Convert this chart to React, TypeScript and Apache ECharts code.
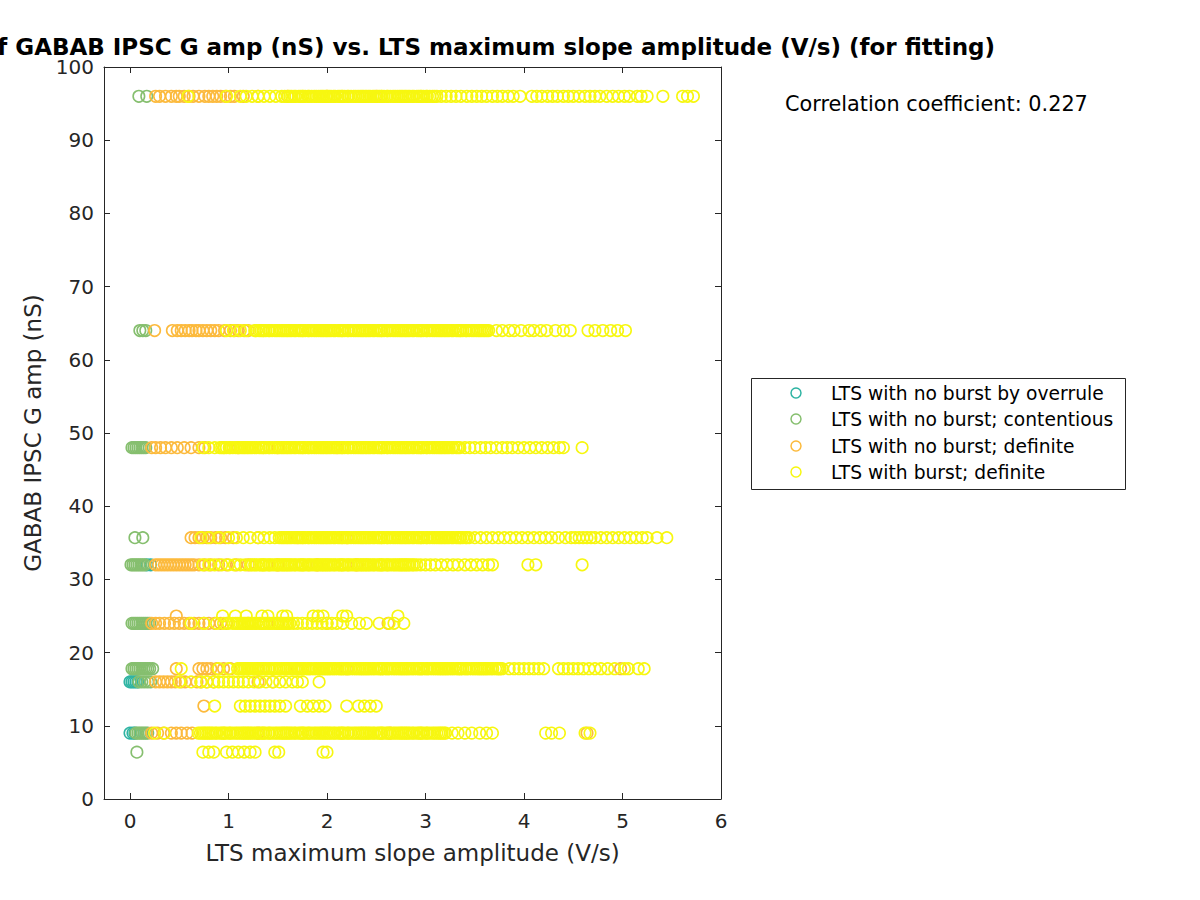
import React, { useEffect, useRef } from "react";
import * as echarts from "echarts";

const seriesNames = [
  "LTS with no burst by overrule",
  "LTS with no burst; contentious",
  "LTS with no burst; definite",
  "LTS with burst; definite",
];
const seriesColors = ["#2fb4a3", "#86bf6f", "#fcba3d", "#f7f710"];
const xTicks = [0, 1, 2, 3, 4, 5, 6];
const yTicks = [0, 10, 20, 30, 40, 50, 60, 70, 80, 90, 100];
const titleText =
  "Scatter plot of GABAB IPSC G amp (nS) vs. LTS maximum slope amplitude (V/s) (for fitting)";
const xName = "LTS maximum slope amplitude (V/s)";
const yName = "GABAB IPSC G amp (nS)";
const correlationText = "Correlation coefficient: 0.227";

// ---- LTS with no burst by overrule ----
const overruleAt32 = [0.17, 0.21];
const overruleAt16 = [0.0, 0.02, 0.04, 0.06, 0.08];
const overruleAt9 = [0.0, 0.03, 0.05];

// ---- LTS with no burst; contentious ----
const contentiousAt96 = [0.09, 0.17];
const contentiousAt64 = [0.1, 0.13, 0.16];
const contentiousAt48 = [0.02, 0.04, 0.06, 0.08, 0.1, 0.12, 0.14, 0.16];
const contentiousAt35p7 = [0.05, 0.13];
const contentiousAt32 = [0.01, 0.03, 0.05, 0.07, 0.09, 0.11, 0.13, 0.15];
const contentiousAt24 = [0.02, 0.04, 0.06, 0.08, 0.1, 0.12, 0.14, 0.16, 0.18, 0.2];
const contentiousAt17p8 = [0.02, 0.04, 0.06, 0.08, 0.1, 0.12, 0.14, 0.16, 0.18, 0.2, 0.23];
const contentiousAt16 = [0.09, 0.12, 0.15, 0.18, 0.21];
const contentiousAt9 = [0.06, 0.08, 0.1, 0.12, 0.14, 0.16, 0.18];
const contentiousAt6p4 = [0.07];

// ---- LTS with no burst; definite ----
const definiteAt96 = [0.26, 0.3, 0.36, 0.42, 0.47, 0.5, 0.55, 0.6, 0.64, 0.7, 0.76, 0.8, 0.84, 0.88, 0.92, 0.97, 1.02, 1.06, 1.15, 1.3, 1.6, 2.0, 2.5];
const definiteAt64 = [0.25, 0.43, 0.48, 0.52, 0.56, 0.6, 0.63, 0.67, 0.7, 0.74, 0.78, 0.82, 0.86, 0.9, 0.96, 1.02, 1.06, 1.1, 1.16, 1.2];
const definiteAt48 = [0.22, 0.26, 0.31, 0.36, 0.42, 0.48, 0.55, 0.62, 0.7, 0.76, 1.1, 1.5, 2.1];
const definiteAt35p7 = [0.62, 0.66, 0.7, 0.74, 0.78, 0.82, 0.87, 0.92, 0.97, 1.05, 1.3, 1.7, 2.2];
const definiteAt32 = [0.26, 0.29, 0.32, 0.35, 0.38, 0.41, 0.44, 0.47, 0.5, 0.53, 0.56, 0.59, 0.62, 0.65, 0.7, 0.76, 0.82, 0.9, 0.98, 1.08, 1.2, 1.5, 1.9, 2.3];
const definiteAt25 = [0.47];
const definiteAt24 = [0.22, 0.26, 0.3, 0.35, 0.4, 0.45, 0.5, 0.55, 0.6, 0.65, 0.7, 0.75, 0.8, 0.86, 0.92, 0.98, 1.2, 1.5, 2.0, 2.62];
const definiteAt17p8 = [0.47, 0.7, 0.74, 0.78, 0.82, 0.88, 0.95, 1.02, 1.3, 1.7, 2.2, 4.98];
const definiteAt16 = [0.26, 0.3, 0.34, 0.38, 0.42, 0.46, 0.52, 0.56, 0.68, 0.72, 0.78, 0.85, 1.3, 1.45];
const definiteAt12p7 = [0.75];
const definiteAt9 = [0.22, 0.28, 0.34, 0.42, 0.47, 0.52, 0.58, 0.63, 1.3, 2.64, 4.64];

// ---- LTS with burst; definite ----
const burstAt96 = [
  0.59, 0.98, 1.12, 1.18, 1.24, 1.3, 1.36, 1.42, 1.48, 1.54, 1.57,
  1.604, 1.623, 1.641, 1.666, 1.683, 1.712, 1.731, 1.749, 1.758, 1.779,
  1.807, 1.819, 1.844, 1.871, 1.892, 1.915, 1.936, 1.953, 1.969, 1.988,
  2.004, 2.023, 2.041, 2.066, 2.083, 2.112, 2.131, 2.149, 2.158, 2.179,
  2.207, 2.219, 2.244, 2.271, 2.292, 2.315, 2.336, 2.353, 2.369, 2.388,
  2.404, 2.423, 2.441, 2.466, 2.483, 2.512, 2.531, 2.549, 2.558, 2.579,
  2.607, 2.619, 2.644, 2.671, 2.692, 2.715, 2.736, 2.753, 2.769, 2.788,
  2.804, 2.823, 2.841, 2.866, 2.883, 2.912, 2.931, 2.949, 2.958, 2.979,
  3.007, 3.019, 3.044, 3.071, 3.092, 3.115,
  3.16, 3.21, 3.26, 3.31, 3.36, 3.42, 3.47, 3.52, 3.57, 3.62, 3.68, 3.73, 3.78, 3.84, 3.89,
  3.96, 4.08, 4.13, 4.18, 4.24, 4.29, 4.34, 4.4, 4.45, 4.5, 4.56, 4.62, 4.67, 4.72, 4.77,
  4.84, 4.9, 4.96, 5.02, 5.07, 5.15, 5.19, 5.25, 5.41, 5.61, 5.66, 5.72,
];
const burstAt64 = [
  0.98, 1.05, 1.12, 1.18, 1.266, 1.283,
  1.312, 1.331, 1.349, 1.358, 1.379, 1.407, 1.419, 1.444, 1.471, 1.492,
  1.515, 1.536, 1.553, 1.569, 1.588, 1.604, 1.623, 1.641, 1.666, 1.683,
  1.712, 1.731, 1.749, 1.758, 1.779, 1.807, 1.819, 1.844, 1.871, 1.892,
  1.915, 1.936, 1.953, 1.969, 1.988, 2.004, 2.023, 2.041, 2.066, 2.083,
  2.112, 2.131, 2.149, 2.158, 2.179, 2.207, 2.219, 2.244, 2.271, 2.292,
  2.315, 2.336, 2.353, 2.369, 2.388, 2.404, 2.423, 2.441, 2.466, 2.483,
  2.512, 2.531, 2.549, 2.558, 2.579, 2.607, 2.619, 2.644, 2.671, 2.692,
  2.715, 2.736, 2.753, 2.769, 2.788, 2.804, 2.823, 2.841, 2.866, 2.883,
  2.912, 2.931, 2.949, 2.958, 2.979, 3.007, 3.019, 3.044, 3.071, 3.092,
  3.115, 3.136, 3.153, 3.169, 3.188, 3.204, 3.223, 3.241, 3.266, 3.283,
  3.312, 3.331, 3.349, 3.358, 3.379, 3.407, 3.419, 3.444, 3.471, 3.492,
  3.515, 3.536, 3.553, 3.569, 3.588, 3.604, 3.623, 3.641,
  3.72, 3.78, 3.85, 3.9, 3.97, 4.05, 4.1, 4.17, 4.23, 4.32, 4.4, 4.47,
  4.65, 4.72, 4.8, 4.88, 4.95, 5.03,
];
const burstAt48 = [
  0.74, 0.8, 0.86,
  0.912, 0.931, 0.949, 0.958, 0.979, 1.007, 1.019, 1.044, 1.071, 1.092,
  1.115, 1.136, 1.153, 1.169, 1.188, 1.204, 1.223, 1.241, 1.266, 1.283,
  1.312, 1.331, 1.349, 1.358, 1.379, 1.407, 1.419, 1.444, 1.471, 1.492,
  1.515, 1.536, 1.553, 1.569, 1.588, 1.604, 1.623, 1.641, 1.666, 1.683,
  1.712, 1.731, 1.749, 1.758, 1.779, 1.807, 1.819, 1.844, 1.871, 1.892,
  1.915, 1.936, 1.953, 1.969, 1.988, 2.004, 2.023, 2.041, 2.066, 2.083,
  2.112, 2.131, 2.149, 2.158, 2.179, 2.207, 2.219, 2.244, 2.271, 2.292,
  2.315, 2.336, 2.353, 2.369, 2.388, 2.404, 2.423, 2.441, 2.466, 2.483,
  2.512, 2.531, 2.549, 2.558, 2.579, 2.607, 2.619, 2.644, 2.671, 2.692,
  2.715, 2.736, 2.753, 2.769, 2.788, 2.804, 2.823, 2.841, 2.866, 2.883,
  2.912, 2.931, 2.949, 2.958, 2.979, 3.007, 3.019, 3.044, 3.071, 3.092,
  3.115, 3.136, 3.153, 3.169, 3.188, 3.204, 3.223, 3.241, 3.266, 3.283,
  3.312, 3.331, 3.349,
  3.4, 3.45, 3.5, 3.56, 3.61, 3.66, 3.72, 3.78, 3.83, 3.88, 3.94, 4.0, 4.06, 4.12, 4.18, 4.24,
  4.3, 4.36, 4.4, 4.59,
];
const burstAt35p7 = [
  0.72, 0.8, 0.9, 1.0, 1.08, 1.15, 1.22, 1.3, 1.36, 1.42, 1.47,
  1.515, 1.536, 1.553, 1.569, 1.588, 1.604, 1.623, 1.641, 1.666, 1.683,
  1.712, 1.731, 1.749, 1.758, 1.779, 1.807, 1.819, 1.844, 1.871, 1.892,
  1.915, 1.936, 1.953, 1.969, 1.988, 2.004, 2.023, 2.041, 2.066, 2.083,
  2.112, 2.131, 2.149, 2.158, 2.179, 2.207, 2.219, 2.244, 2.271, 2.292,
  2.315, 2.336, 2.353, 2.369, 2.388, 2.404, 2.423, 2.441, 2.466, 2.483,
  2.512, 2.531, 2.549, 2.558, 2.579, 2.607, 2.619, 2.644, 2.671, 2.692,
  2.715, 2.736, 2.753, 2.769, 2.788, 2.804, 2.823, 2.841, 2.866, 2.883,
  2.912, 2.931, 2.949, 2.958, 2.979, 3.007, 3.019, 3.044, 3.071, 3.092,
  3.115, 3.136, 3.153, 3.169, 3.188, 3.204, 3.223, 3.241, 3.266, 3.283,
  3.312, 3.331, 3.349, 3.358, 3.379, 3.407, 3.419, 3.444,
  3.5, 3.56, 3.62, 3.68, 3.74, 3.8, 3.86, 3.92, 3.98, 4.04, 4.1, 4.16, 4.22, 4.28, 4.35, 4.42,
  4.48, 4.52, 4.56, 4.6, 4.64, 4.68, 4.72, 4.78, 4.84, 4.9, 4.96, 5.02, 5.08, 5.14, 5.2, 5.25,
  5.35, 5.45,
];
const burstAt32 = [
  0.74, 0.8, 0.86, 0.93, 1.0, 1.06, 1.12, 1.17,
  1.223, 1.241, 1.266, 1.283, 1.312, 1.331, 1.349, 1.358, 1.379,
  1.407, 1.419, 1.444, 1.471, 1.492, 1.515, 1.536, 1.553, 1.569, 1.588,
  1.604, 1.623, 1.641, 1.666, 1.683, 1.712, 1.731, 1.749, 1.758, 1.779,
  1.807, 1.819, 1.844, 1.871, 1.892, 1.915, 1.936, 1.953, 1.969, 1.988,
  2.004, 2.023, 2.041, 2.066, 2.083, 2.112, 2.131, 2.149, 2.158, 2.179,
  2.207, 2.219, 2.244, 2.271, 2.292, 2.315, 2.336, 2.353, 2.369, 2.388,
  2.404, 2.423, 2.441, 2.466, 2.483, 2.512, 2.531, 2.549, 2.558, 2.579,
  2.607, 2.619, 2.644, 2.671, 2.692, 2.715, 2.736, 2.753, 2.769, 2.788,
  2.804, 2.823, 2.841, 2.866, 2.883, 2.912,
  2.95, 3.0, 3.05, 3.1, 3.16, 3.22, 3.28, 3.33, 3.4, 3.46, 3.52, 3.58, 3.64, 3.68,
  4.04, 4.12, 4.59,
];
const burstAt25 = [0.94, 1.07, 1.18, 1.34, 1.4, 1.55, 1.59, 1.86, 1.91, 1.96, 2.16, 2.2, 2.72];
const burstAt24 = [
  0.62, 0.75, 0.88, 0.95, 1.0, 1.044, 1.071, 1.092,
  1.115, 1.136, 1.153, 1.169, 1.188, 1.204, 1.223, 1.241, 1.266, 1.283,
  1.312, 1.331, 1.349, 1.358, 1.379, 1.407, 1.419, 1.444, 1.471, 1.492,
  1.515, 1.536, 1.553, 1.569, 1.588, 1.604, 1.623,
  1.66, 1.7, 1.75, 1.8, 1.85, 1.9, 1.95, 2.0, 2.05, 2.1, 2.16, 2.25, 2.33, 2.4, 2.53, 2.63,
  2.68, 2.78,
];
const burstAt17p8 = [
  0.52, 0.9, 1.0, 1.092,
  1.115, 1.136, 1.153, 1.169, 1.188, 1.204, 1.223, 1.241, 1.266, 1.283,
  1.312, 1.331, 1.349, 1.358, 1.379, 1.407, 1.419, 1.444, 1.471, 1.492,
  1.515, 1.536, 1.553, 1.569, 1.588, 1.604, 1.623, 1.641, 1.666, 1.683,
  1.712, 1.731, 1.749, 1.758, 1.779, 1.807, 1.819, 1.844, 1.871, 1.892,
  1.915, 1.936, 1.953, 1.969, 1.988, 2.004, 2.023, 2.041, 2.066, 2.083,
  2.112, 2.131, 2.149, 2.158, 2.179, 2.207, 2.219, 2.244, 2.271, 2.292,
  2.315, 2.336, 2.353, 2.369, 2.388, 2.404, 2.423, 2.441, 2.466, 2.483,
  2.512, 2.531, 2.549, 2.558, 2.579, 2.607, 2.619, 2.644, 2.671, 2.692,
  2.715, 2.736, 2.753, 2.769, 2.788, 2.804, 2.823, 2.841, 2.866, 2.883,
  2.912, 2.931, 2.949, 2.958, 2.979, 3.007, 3.019, 3.044, 3.071, 3.092,
  3.115, 3.136, 3.153, 3.169, 3.188, 3.204, 3.223, 3.241, 3.266, 3.283,
  3.312, 3.331, 3.349, 3.358, 3.379, 3.407, 3.419, 3.444, 3.471, 3.492,
  3.515, 3.536, 3.553, 3.569, 3.588, 3.604, 3.623, 3.641, 3.666, 3.683,
  3.712, 3.731, 3.749, 3.758, 3.779,
  3.85, 3.9, 3.95, 4.0, 4.05, 4.1, 4.15, 4.2, 4.35, 4.4, 4.45, 4.5, 4.55, 4.6, 4.66, 4.72,
  4.78, 4.85, 4.92, 5.02, 5.06, 5.16, 5.22,
];
const burstAt16 = [
  0.5, 0.62, 0.72, 0.78, 0.85, 0.9, 0.95, 1.0, 1.05, 1.1, 1.15, 1.2, 1.26, 1.32, 1.38, 1.45,
  1.52, 1.58, 1.65, 1.7, 1.75, 1.92,
];
const burstAt12p7 = [
  0.86, 1.12, 1.17, 1.22, 1.27, 1.32, 1.37, 1.42, 1.47, 1.52, 1.58, 1.73, 1.8, 1.86, 1.92,
  1.98, 2.2, 2.32, 2.38, 2.44, 2.5,
];
const burstAt9 = [
  0.25, 0.35, 0.692,
  0.715, 0.736, 0.753, 0.769, 0.788, 0.804, 0.823, 0.841, 0.866, 0.883,
  0.912, 0.931, 0.949, 0.958, 0.979, 1.007, 1.019, 1.044, 1.071, 1.092,
  1.115, 1.136, 1.153, 1.169, 1.188, 1.204, 1.223, 1.241, 1.266, 1.283,
  1.312, 1.331, 1.349, 1.358, 1.379, 1.407, 1.419, 1.444, 1.471, 1.492,
  1.515, 1.536, 1.553, 1.569, 1.588, 1.604, 1.623, 1.641, 1.666, 1.683,
  1.712, 1.731, 1.749, 1.758, 1.779, 1.807, 1.819, 1.844, 1.871, 1.892,
  1.915, 1.936, 1.953, 1.969, 1.988, 2.004, 2.023, 2.041, 2.066, 2.083,
  2.112, 2.131, 2.149, 2.158, 2.179, 2.207, 2.219, 2.244, 2.271, 2.292,
  2.315, 2.336, 2.353, 2.369, 2.388, 2.404, 2.423, 2.441, 2.466, 2.483,
  2.512, 2.531, 2.549, 2.558, 2.579, 2.607, 2.619, 2.644, 2.671, 2.692,
  2.715, 2.736, 2.753, 2.769, 2.788, 2.804, 2.823, 2.841, 2.866, 2.883,
  2.912, 2.931, 2.949, 2.958, 2.979, 3.007, 3.019, 3.044, 3.071, 3.092,
  3.115, 3.136, 3.153, 3.169, 3.188, 3.204,
  3.27, 3.33, 3.4, 3.47, 3.55, 3.62, 3.68, 4.22, 4.28, 4.36, 4.62, 4.67,
];
const burstAt6p4 = [0.74, 0.8, 0.85, 0.98, 1.04, 1.1, 1.16, 1.22, 1.27, 1.47, 1.51, 1.96, 2.0];

type Row = [number, number[]];
const overruleRows: Row[] = [[32, overruleAt32], [16, overruleAt16], [9, overruleAt9]];
const contentiousRows: Row[] = [
  [96, contentiousAt96], [64, contentiousAt64], [48, contentiousAt48], [35.7, contentiousAt35p7],
  [32, contentiousAt32], [24, contentiousAt24], [17.8, contentiousAt17p8], [16, contentiousAt16],
  [9, contentiousAt9], [6.4, contentiousAt6p4],
];
const definiteRows: Row[] = [
  [96, definiteAt96], [64, definiteAt64], [48, definiteAt48], [35.7, definiteAt35p7],
  [32, definiteAt32], [25, definiteAt25], [24, definiteAt24], [17.8, definiteAt17p8],
  [16, definiteAt16], [12.7, definiteAt12p7], [9, definiteAt9],
];
const burstRows: Row[] = [
  [96, burstAt96], [64, burstAt64], [48, burstAt48], [35.7, burstAt35p7], [32, burstAt32],
  [25, burstAt25], [24, burstAt24], [17.8, burstAt17p8], [16, burstAt16], [12.7, burstAt12p7],
  [9, burstAt9], [6.4, burstAt6p4],
];
const allRows = [overruleRows, contentiousRows, definiteRows, burstRows];

const toPoints = (rows: Row[]) => rows.flatMap(([y, xs]) => xs.map((x) => [x, y]));

const FONT = "DejaVu Sans";
const AX = "#262626";

// legend box layout (pixels)
const LEG = { x: 751, y: 378, w: 374, h: 111, markerX: 796, textX: 831, rowY: [393, 419, 446, 472] };

export default function App() {
  const ref = useRef<HTMLDivElement>(null);
  useEffect(() => {
    if (!ref.current) return;
    const chart = echarts.init(ref.current, null, { renderer: "svg" });
    const axisCommon = {
      axisLine: { show: true, onZero: false, lineStyle: { color: AX, width: 1 } },
      axisTick: { show: true, inside: true, length: 6, lineStyle: { color: AX, width: 1 } },
      splitLine: { show: false },
    };
    const xCommon = { type: "value", min: -0.264, max: 6, splitNumber: 6, ...axisCommon };
    const yCommon = { type: "value", min: 0, max: 100, interval: 10, ...axisCommon };

    const legendGraphics: any[] = [
      {
        type: "rect",
        shape: { x: LEG.x + 0.5, y: LEG.y + 0.5, width: LEG.w, height: LEG.h },
        style: { fill: "#ffffff", stroke: AX, lineWidth: 1 },
        z: 10,
      },
    ];
    seriesNames.forEach((name, i) => {
      legendGraphics.push({
        type: "circle",
        shape: { cx: LEG.markerX, cy: LEG.rowY[i], r: 5 },
        style: { fill: "none", stroke: seriesColors[i], lineWidth: 1.5 },
        z: 11,
      });
      legendGraphics.push({
        type: "text",
        x: LEG.textX,
        y: LEG.rowY[i],
        style: {
          text: name,
          align: "left",
          verticalAlign: "middle",
          fontFamily: FONT,
          fontSize: 18.7,
          fill: "#000",
        },
        z: 11,
      });
    });

    chart.setOption({
      animation: false,
      backgroundColor: "#ffffff",
      grid: { left: 104, top: 67, width: 617, height: 732, containLabel: false },
      xAxis: [
        {
          ...xCommon,
          position: "bottom",
          name: xName,
          nameLocation: "middle",
          nameGap: 42,
          nameTextStyle: { fontFamily: FONT, fontSize: 23, color: AX },
          axisTick: { ...axisCommon.axisTick, customValues: xTicks },
          axisLabel: {
            customValues: xTicks,
            fontFamily: FONT,
            fontSize: 20,
            color: AX,
            margin: 12,
            formatter: (v: number) => String(v),
          },
        },
        {
          ...xCommon,
          position: "top",
          axisTick: { ...axisCommon.axisTick, customValues: xTicks },
          axisLabel: { show: false },
        },
      ],
      yAxis: [
        {
          ...yCommon,
          position: "left",
          name: yName,
          nameLocation: "middle",
          nameGap: 58,
          nameRotate: 90,
          nameTextStyle: { fontFamily: FONT, fontSize: 23, color: AX },
          axisLabel: { customValues: yTicks, fontFamily: FONT, fontSize: 20, color: AX, margin: 10 },
        },
        { ...yCommon, position: "right", axisLabel: { show: false } },
      ],
      graphic: [
        {
          type: "text",
          x: 995,
          y: 47,
          style: {
            text: titleText,
            align: "right",
            verticalAlign: "middle",
            fontFamily: FONT,
            fontSize: 23,
            fontWeight: "bold",
            fill: "#000",
          },
        },
        {
          type: "text",
          x: 785,
          y: 104,
          style: {
            text: correlationText,
            align: "left",
            verticalAlign: "middle",
            fontFamily: FONT,
            fontSize: 20.8,
            fill: "#000",
          },
        },
        ...legendGraphics,
      ],
      series: seriesNames.map((name, i) => ({
        name,
        type: "scatter",
        xAxisIndex: 0,
        yAxisIndex: 0,
        symbol: "circle",
        symbolSize: 11.5,
        silent: true,
        itemStyle: { color: "transparent", borderColor: seriesColors[i], borderWidth: 1.6, opacity: 1 },
        emphasis: { disabled: true },
        data: toPoints(allRows[i]),
      })),
    });
    return () => chart.dispose();
  }, []);
  return (
    <div
      ref={ref}
      style={{ position: "absolute", left: 0, top: 0, width: 1200, height: 900 }}
    />
  );
}
